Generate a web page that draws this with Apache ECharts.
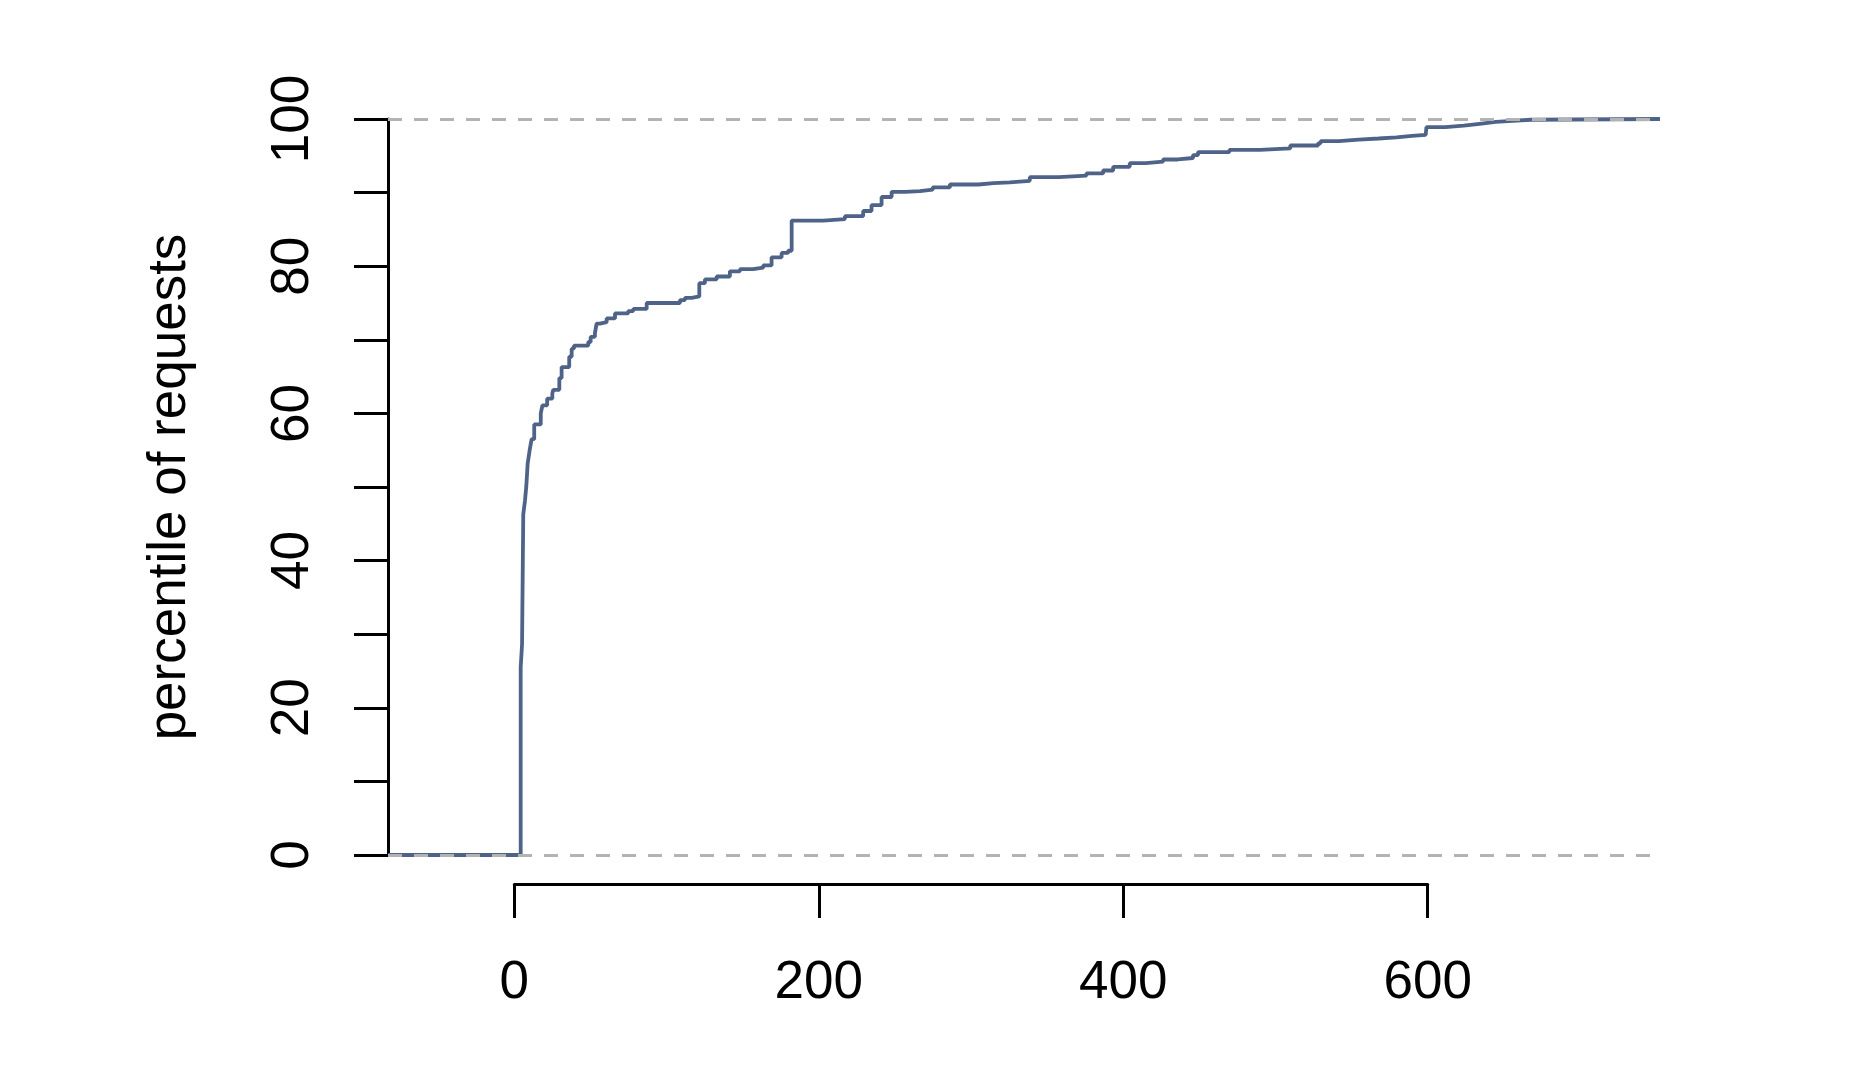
<!DOCTYPE html>
<html>
<head>
<meta charset="utf-8">
<script src="https://cdn.jsdelivr.net/npm/echarts@6/dist/echarts.min.js"></script>
<style>
  html, body { margin: 0; padding: 0; background: #ffffff; }
  #chart { width: 1870px; height: 1072px; }
</style>
</head>
<body>
<div id="chart"></div>
<script>
// Response time knots (x) and cumulative percentile after each knot (y)
const responseTimes = [-83, 4.2, 5.1, 5.9, 7.0, 7.9, 8.8, 10.1, 11.4, 13.1, 17.4, 18.5, 21.6, 25.0, 25.6,
  29.6, 31.1, 36.1, 37.7, 39.2, 48.6, 50.2, 53.0, 54.1, 56.3, 60.7, 66.2, 74.9, 78.2, 87.0,
  108.9, 112.2, 116.6, 121.6, 125.3, 133.0, 141.7, 148.3, 157.0, 163.6, 169.1, 175.7, 180.0,
  182.3, 203.0, 217.3, 229.3, 234.8, 241.4, 248.0, 257.0, 266.6, 275.0, 286.3, 305.0, 315.0,
  325.7, 338.8, 358.0, 376.0, 387.0, 393.6, 404.5, 415.0, 426.4, 436.0, 446.1, 449.4, 470.0,
  490.0, 510.0, 528.3, 530.0, 542.0, 555.0, 568.0, 579.8, 590.0, 599.0, 599.5, 612.0, 624.0,
  634.5, 645.0, 656.0, 668.0, 753];
const percentiles = [0, 25.5, 28.6, 46.3, 48.1, 50.1, 53.2, 55.0, 56.5, 58.5, 60.0, 61.1, 62.0, 62.7, 63.2,
  64.8, 66.3, 67.7, 68.8, 69.2, 69.7, 70.4, 70.9, 72.2, 72.4, 72.9, 73.6, 73.9, 74.2, 75.0,
  75.4, 75.7, 75.9, 77.7, 78.2, 78.6, 79.3, 79.6, 79.8, 80.1, 81.2, 81.8, 82.1,
  86.2, 86.4, 86.8, 87.5, 88.3, 89.4, 90.1, 90.2, 90.4, 90.7, 91.1, 91.3, 91.4,
  91.6, 92.1, 92.3, 92.6, 93.0, 93.5, 94.0, 94.2, 94.5, 94.7, 95.1, 95.5, 95.8,
  96.0, 96.4, 96.7, 97.0, 97.2, 97.35, 97.5, 97.7, 97.85, 98.0, 98.9, 99.1, 99.35,
  99.6, 99.75, 99.9, 100, 100];
const xTickValues = [0, 200, 400, 600];
const yTickValues = [0, 20, 40, 60, 80, 100];
const refLevels = [0, 100];
const yTitle = 'percentile of requests';

const points = responseTimes.map((x, i) => [x, percentiles[i]]);
const FONT = 'Liberation Sans, Arial, Helvetica, sans-serif';

const chart = echarts.init(document.getElementById('chart'), null, { renderer: 'canvas' });
chart.setOption({
  backgroundColor: '#ffffff',
  animation: false,
  grid: [
    { left: 388, top: 119, width: 1272, height: 736 },
    { left: 514.3, top: 119, width: 913.4, height: 736 }
  ],
  xAxis: [
    {
      type: 'value', gridIndex: 0, min: -83, max: 753,
      axisLine: { show: false, onZero: false }, axisTick: { show: false },
      axisLabel: { show: false }, splitLine: { show: false }
    },
    {
      type: 'value', gridIndex: 1, min: 0, max: 600, interval: 200,
      offset: 29, position: 'bottom',
      axisLine: { show: true, onZero: false, lineStyle: { color: '#000', width: 3 } },
      axisTick: { show: true, length: 34, lineStyle: { color: '#000', width: 3 } },
      axisLabel: {
        show: true, margin: 73, fontSize: 53, color: '#000', fontFamily: FONT,
        customValues: xTickValues
      },
      splitLine: { show: false }
    }
  ],
  yAxis: [
    {
      type: 'value', gridIndex: 0, min: 0, max: 100, interval: 10, position: 'left',
      axisLine: { show: true, onZero: false, lineStyle: { color: '#000', width: 3 } },
      axisTick: { show: true, length: 34, lineStyle: { color: '#000', width: 3 } },
      axisLabel: {
        show: true, rotate: 90, margin: 68, fontSize: 53, color: '#000', fontFamily: FONT,
        formatter: v => (yTickValues.indexOf(v) >= 0 ? String(v) : '')
      },
      splitLine: { show: false },
      name: yTitle, nameLocation: 'middle', nameRotate: 90, nameGap: 191,
      nameTextStyle: { fontSize: 53, color: '#000', fontFamily: FONT }
    },
    {
      type: 'value', gridIndex: 1, min: 0, max: 100, show: false,
      axisLine: { onZero: false }
    }
  ],
  series: [
    {
      type: 'line', xAxisIndex: 0, yAxisIndex: 0,
      data: points, step: 'end', symbol: 'none',
      lineStyle: { color: '#4f6389', width: 3.8 },
      markLine: {
        silent: true, symbol: 'none',
        label: { show: false },
        lineStyle: { color: '#b3b3b3', width: 3.2, type: [14, 12] },
        data: refLevels.map(v => ({ yAxis: v }))
      }
    }
  ]
});
</script>
</body>
</html>
